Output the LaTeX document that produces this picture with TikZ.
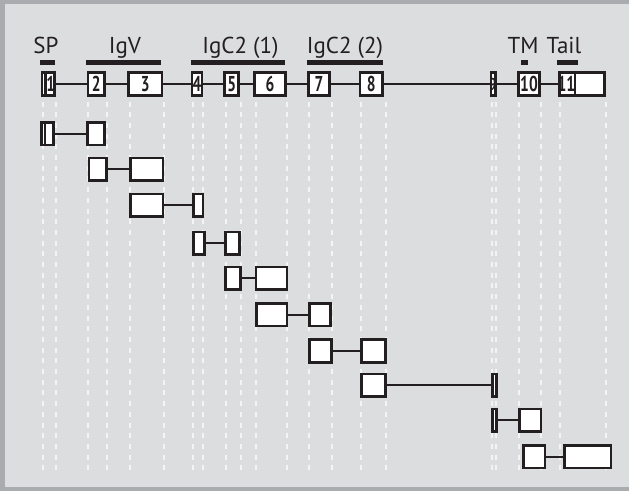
\documentclass[tikz,border=0pt]{standalone}
\usepackage{fontspec}
\setmainfont{PT Sans}
\usetikzlibrary{calc}
\definecolor{ink}{HTML}{231F20}
\definecolor{panel}{HTML}{DCDDDF}
\definecolor{framec}{HTML}{A9ABAE}
\definecolor{guidec}{HTML}{F4F4F5}
\newcommand\exnum[1]{\makebox[0pt]{\scalebox{0.72}[1]{#1}}}
% top-row exon: name, x1, x2, label
\newcommand\exT[4]{\node[exon,minimum width={#3-#2-2.7},minimum height=23.3] (#1) at ({(#2+#3)/2},84) {#4};}
% lower-row exon: name, x1, x2, ytop
\newcommand\exR[4]{\node[exon,minimum width={#3-#2-2.7},minimum height=22.6] (#1) at ({(#2+#3)/2},{#4+12.65}) {};}
\begin{document}
\begin{tikzpicture}[x=1pt,y=-1pt,
  exon/.style={draw=ink,line width=2.7pt,fill=white,inner sep=0pt,outer sep=0pt,
    font=\fontsize{21.5}{21.5}\selectfont\bfseries,text=ink},
  numlabel/.style={inner sep=0pt,font=\fontsize{21.5}{21.5}\selectfont\bfseries,text=ink},
  intron/.style={draw=ink,line width=2pt},
  divider/.style={draw=ink,line width=2.2pt},
  guide/.style={draw=guidec,line width=1.8pt,dash pattern=on 5pt off 5.7pt},
  domainbar/.style={fill=ink},
  dlabel/.style={font=\fontsize{23}{23}\selectfont,text=ink,anchor=base,inner sep=0pt}]
\fill[framec] (0,0) rectangle (629,491);
\fill[panel] (5,4) rectangle (629,487);
\useasboundingbox (0,0) rectangle (629,491);

% guide lines
\foreach \gx in {42.7,56,88.3,107.3,130,164,193.3,203.3,226,240.7,256,287.3,309,331.7,361,385.7,492.3,496,519,541,560.3,606}
  \draw[guide] (\gx,101.5) -- (\gx,470);

% domain labels and bars
\node[dlabel] (sp) at (46,53) {SP};
\node[dlabel] (igv) at (125,53) {IgV};
\node[dlabel] (igc1) at (240.5,53) {IgC2 (1)};
\node[dlabel] (igc2) at (345,53) {IgC2 (2)};
\node[dlabel] (tm) at (523,53) {TM};
\node[dlabel] (tail) at (564,53) {Tail};
\fill[domainbar] (40,60) rectangle (54.7,64.5);
\fill[domainbar] (86,60) rectangle (161.3,64.5);
\fill[domainbar] (190.7,60) rectangle (285.3,64.5);
\fill[domainbar] (306.7,60) rectangle (383.3,64.5);
\fill[domainbar] (520.7,60) rectangle (528,64.5);
\fill[domainbar] (557.3,60) rectangle (578,64.5);

% top row: full gene
\exT{e1}{40.5}{55.5}{}
\exT{e2}{86.7}{106}{\exnum{2}}
\exT{e3}{127.3}{163.3}{\exnum{3}}
\exT{e4}{190.7}{203.3}{\exnum{4}}
\exT{e5}{223.3}{240}{\exnum{5}}
\exT{e6}{253.3}{286.7}{\exnum{6}}
\exT{e7}{307.3}{330.7}{\exnum{7}}
\exT{e8}{358.7}{384}{\exnum{8}}
\exT{e9}{489.5}{496.5}{\makebox[0pt]{\scalebox{0.42}[0.8]{9}}}
\exT{e10}{517.3}{540.7}{\exnum{10}}
\exT{e11}{558.3}{606}{}
\draw[divider] ([xshift=3.7pt]e1.north west) -- ([xshift=3.7pt]e1.south west);
\draw[divider] ([xshift=15.4pt]e11.north west) -- ([xshift=15.4pt]e11.south west);
\node[numlabel] (l1) at (50.7,84) {\exnum{1}};
\node[numlabel] (l11) at (566.3,84) {\exnum{11}};
\draw[intron] (e1.east) -- (e2.west);
\draw[intron] (e2.east) -- (e3.west);
\draw[intron] (e3.east) -- (e4.west);
\draw[intron] (e4.east) -- (e5.west);
\draw[intron] (e5.east) -- (e6.west);
\draw[intron] (e6.east) -- (e7.west);
\draw[intron] (e7.east) -- (e8.west);
\draw[intron] (e8.east) -- (e9.west);
\draw[intron] (e9.east) -- (e10.west);
\draw[intron] (e10.east) -- (e11.west);

% exon pairs
\exR{r1a}{40}{55}{121}
\exR{r1b}{86}{106}{121}
\draw[divider] ([xshift=3.4pt]r1a.north west) -- ([xshift=3.4pt]r1a.south west);
\exR{r2a}{87.7}{107.7}{156.7}
\exR{r2b}{129}{164.3}{156.7}
\exR{r3a}{129}{164.3}{192.7}
\exR{r3b}{192}{204.3}{192.7}
\exR{r4a}{192.3}{205.7}{230.7}
\exR{r4b}{224.3}{241}{230.7}
\exR{r5a}{224.3}{241.7}{265.7}
\exR{r5b}{254.7}{288.3}{265.7}
\exR{r6a}{255}{288.3}{302}
\exR{r6b}{308.3}{331.7}{302}
\exR{r7a}{308.3}{332.7}{338.3}
\exR{r7b}{360.3}{386.7}{338.3}
\exR{r8a}{360}{386.7}{372.7}
\exR{r8b}{491}{497.7}{372.7}
\exR{r9a}{491}{497.7}{407.7}
\exR{r9b}{518.3}{542.3}{407.7}
\exR{r10a}{522.3}{546.3}{444}
\exR{r10b}{563.3}{612.3}{444}
\foreach \rr in {1,...,10}
  \draw[intron] (r\rr a.east) -- (r\rr b.west);
\end{tikzpicture}
\end{document}
